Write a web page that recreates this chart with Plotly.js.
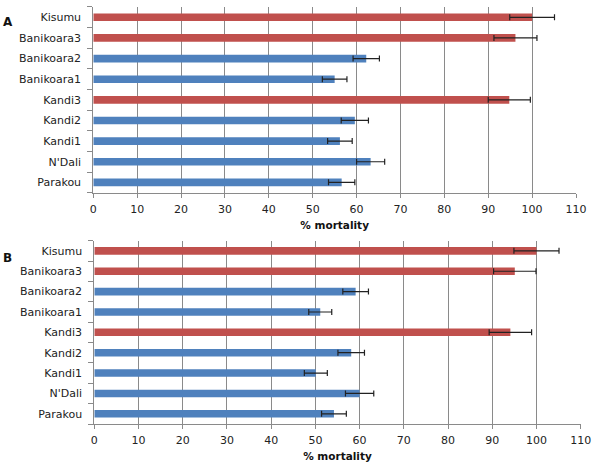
<!DOCTYPE html>
<html>
<head>
<meta charset="utf-8">
<script src="https://cdn.plot.ly/plotly-3.0.1.min.js"></script>
<style>html,body{margin:0;padding:0;background:#fff;}#chart{width:600px;height:466px;}</style>
</head>
<body>
<div id="chart"></div>
<script>
// Categories (bottom to top)
const sites = ["Parakou", "N'Dali", "Kandi1", "Kandi2", "Kandi3", "Banikoara1", "Banikoara2", "Banikoara3", "Kisumu"];
// Resistant/reference group drawn in red
const redSites = ["Kandi3", "Banikoara3", "Kisumu"];
// Panel A: % mortality and error
const mortalityA = [56.6, 63.2, 56.2, 59.6, 94.8, 55.0, 62.2, 96.2, 100];
const errorA     = [3.0, 3.2, 2.8, 3.1, 4.8, 2.8, 3.0, 4.9, 5.1];
// Panel B: % mortality and error
const mortalityB = [54.2, 60.0, 50.1, 58.1, 94.1, 51.1, 59.1, 95.1, 100];
const errorB     = [2.8, 3.2, 2.6, 3.0, 4.8, 2.6, 2.9, 4.8, 5.1];
const xTicks = [0, 10, 20, 30, 40, 50, 60, 70, 80, 90, 100, 110];
const panelLabels = ["A", "B"];
const xTitle = "% mortality";

const RED = "#C0504D", BLUE = "#4F81BD";
const colors = sites.map(s => redSites.includes(s) ? RED : BLUE);
const FONT = "DejaVu Sans, Verdana, sans-serif";

function barTrace(vals, errs, xa, ya) {
  return {
    type: "bar", orientation: "h",
    x: vals, y: sites, xaxis: xa, yaxis: ya,
    marker: {color: colors, line: {width: 0}},
    error_x: {type: "data", array: errs, visible: true, color: "#222", thickness: 1.2, width: 3},
    showlegend: false, hoverinfo: "x+y"
  };
}

function xAxis(domain, anchor) {
  return {
    domain: domain, anchor: anchor, range: [0, 110],
    tickvals: xTicks, ticktext: xTicks.map(String),
    showgrid: true, gridcolor: "#8a8a8a", gridwidth: 1,
    showline: true, linecolor: "#8a8a8a", linewidth: 1,
    ticks: "outside", ticklen: 4, tickcolor: "#8a8a8a",
    tickfont: {family: FONT, size: 11, color: "#222"},
    ticklabelstandoff: 2,
    zeroline: false, fixedrange: true,
    title: {text: xTitle, font: {family: FONT, size: 10.5, color: "#111", weight: "bold"}, standoff: 6}
  };
}
function yAxis(domain, anchor) {
  return {
    domain: domain, anchor: anchor, type: "category",
    categoryorder: "array", categoryarray: sites,
    showgrid: false, showline: true, linecolor: "#8a8a8a", linewidth: 1,
    ticks: "outside", tickson: "boundaries", ticklen: 5, tickcolor: "#8a8a8a",
    tickfont: {family: FONT, size: 11, color: "#222"},
    ticklabelstandoff: 9,
    zeroline: false, fixedrange: true
  };
}

const data = [
  barTrace(mortalityA, errorA, "x", "y"),
  barTrace(mortalityB, errorB, "x2", "y2")
];

const layout = {
  width: 600, height: 466,
  margin: {l: 0, r: 0, t: 0, b: 0},
  paper_bgcolor: "#fff", plot_bgcolor: "#fff",
  bargap: 0.63,
  font: {family: FONT, color: "#222"},
  xaxis: xAxis([0.1555, 0.96], "y"),
  yaxis: yAxis([0.5865, 0.985], "x"),
  xaxis2: xAxis([0.1572, 0.9678], "y2"),
  yaxis2: yAxis([0.0901, 0.4835], "x2"),
  annotations: [
    {text: panelLabels[0], xref: "paper", yref: "paper", x: 1/600, y: 1 - 22/466, xanchor: "left", yanchor: "middle", showarrow: false,
     font: {family: FONT, size: 12, color: "#111", weight: "bold"}},
    {text: panelLabels[1], xref: "paper", yref: "paper", x: 1/600, y: 1 - 258/466, xanchor: "left", yanchor: "middle", showarrow: false,
     font: {family: FONT, size: 12, color: "#111", weight: "bold"}}
  ]
};

Plotly.newPlot("chart", data, layout, {displayModeBar: false, staticPlot: true});
</script>
</body>
</html>
